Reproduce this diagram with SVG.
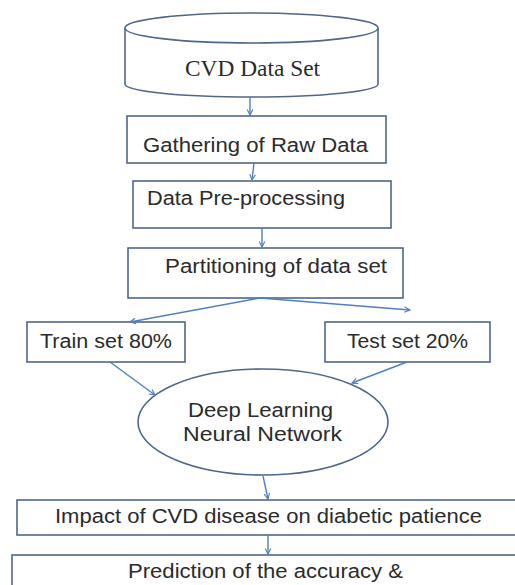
<svg xmlns="http://www.w3.org/2000/svg" width="515" height="585" viewBox="0 0 515 585">
  <style>
    .box { fill: #ffffff; stroke: #50668a; stroke-width: 1.6; }
    .lbl { font-family: "Liberation Sans", Arial, sans-serif; font-size: 19.5px; fill: #2b2b2b; }
    .serif { font-family: "Liberation Serif", "Times New Roman", serif; font-size: 24px; fill: #2b2b2b; }
    .conn { stroke: #4f7fbf; stroke-width: 1.4; fill: none; marker-end: url(#arrow); }
  </style>
  <defs>
    <marker id="arrow" viewBox="0 0 10 10" refX="9" refY="5" markerWidth="7" markerHeight="7" orient="auto" markerUnits="userSpaceOnUse">
      <path d="M1,1 L9,5 L1,9" fill="none" stroke="#4f7fbf" stroke-width="1.6"/>
    </marker>
  </defs>
  <rect width="515" height="585" fill="#ffffff"/>

  <!-- data store cylinder -->
  <g id="cvd-data-set">
    <path class="box" d="M125,28 L125,84 A126.5,13 0 0,0 378,84 L378,28"/>
    <ellipse class="box" cx="251.5" cy="28" rx="126.5" ry="15"/>
    <text class="serif" x="185" y="76" textLength="135" lengthAdjust="spacingAndGlyphs">CVD Data Set</text>
  </g>

  <g id="gathering">
    <rect class="box" x="127" y="116" width="259" height="47"/>
    <text class="lbl" x="143" y="152" textLength="225" lengthAdjust="spacingAndGlyphs">Gathering of Raw Data</text>
  </g>

  <g id="preprocessing">
    <rect class="box" x="133" y="181" width="258" height="47"/>
    <text class="lbl" x="147" y="205" textLength="198" lengthAdjust="spacingAndGlyphs">Data Pre-processing</text>
  </g>

  <g id="partitioning">
    <rect class="box" x="128" y="248" width="275" height="50"/>
    <text class="lbl" x="165" y="273" textLength="222" lengthAdjust="spacingAndGlyphs">Partitioning of data set</text>
  </g>

  <g id="train-set">
    <rect class="box" x="27" y="322" width="158" height="40"/>
    <text class="lbl" x="40" y="348" textLength="132" lengthAdjust="spacingAndGlyphs">Train set 80%</text>
  </g>

  <g id="test-set">
    <rect class="box" x="325" y="322" width="165" height="40"/>
    <text class="lbl" x="347" y="348" textLength="121" lengthAdjust="spacingAndGlyphs">Test set 20%</text>
  </g>

  <g id="deep-learning">
    <ellipse class="box" cx="263" cy="422" rx="125" ry="53"/>
    <text class="lbl" x="188" y="417" textLength="145" lengthAdjust="spacingAndGlyphs">Deep Learning</text>
    <text class="lbl" x="183" y="441" textLength="159" lengthAdjust="spacingAndGlyphs">Neural Network</text>
  </g>

  <g id="impact">
    <rect class="box" x="17" y="500" width="510" height="35"/>
    <text class="lbl" x="55" y="523" textLength="427" lengthAdjust="spacingAndGlyphs">Impact of CVD disease on diabetic patience</text>
  </g>

  <g id="prediction">
    <rect class="box" x="12" y="555" width="520" height="40"/>
    <text class="lbl" x="128" y="578" textLength="275" lengthAdjust="spacingAndGlyphs">Prediction of the accuracy &amp;</text>
  </g>

  <g id="connectors">
    <line class="conn" x1="250" y1="97" x2="250" y2="115"/>
    <line class="conn" x1="254" y1="163" x2="252" y2="180"/>
    <line class="conn" x1="262" y1="228" x2="262" y2="247"/>
    <line class="conn" x1="260" y1="298" x2="130" y2="322"/>
    <line class="conn" x1="260" y1="298" x2="410" y2="310"/>
    <line class="conn" x1="110" y1="362" x2="155" y2="395"/>
    <line class="conn" x1="407" y1="362" x2="352" y2="383"/>
    <line class="conn" x1="263" y1="476" x2="268" y2="499"/>
    <line class="conn" x1="268" y1="535" x2="268" y2="554"/>
  </g>
</svg>
